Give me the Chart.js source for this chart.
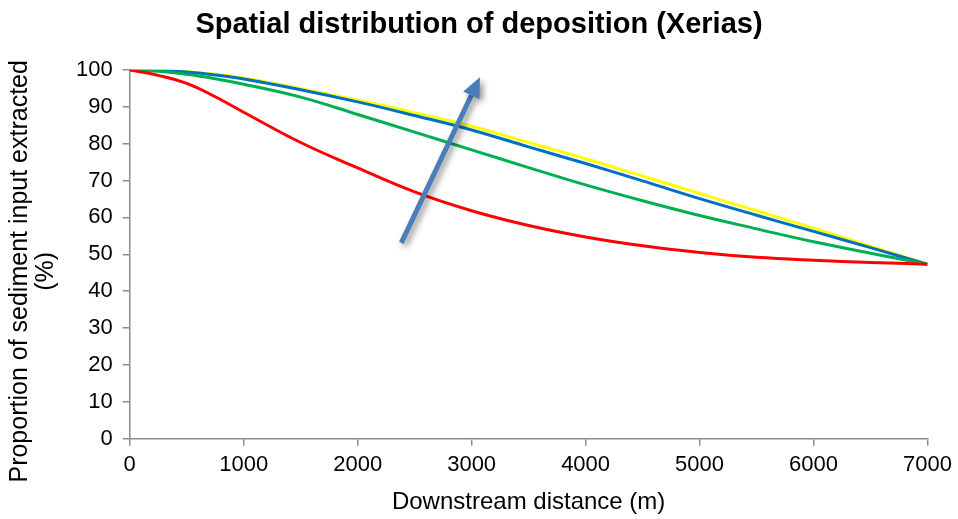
<!DOCTYPE html>
<html>
<head>
<meta charset="utf-8">
<script src="https://cdn.jsdelivr.net/npm/chart.js@4"></script>
<style>
  html, body { margin: 0; padding: 0; background: #fff; }
  #wrap { width: 958px; height: 519px; }
</style>
</head>
<body>
<div id="wrap"><canvas id="grafico" width="958" height="519"></canvas></div>
<script>
// downstream distance (m)
const distancias = [0, 250, 500, 750, 1000, 1500, 2000, 2500, 3000, 3500, 4000, 4500, 5000, 5500, 6000, 6500, 7000];

// proportion of sediment input extracted (%)
const serieVermelha = [100, 98.5, 96.3, 92.7, 88.5, 80.3, 73.4, 66.9, 61.8, 57.8, 54.7, 52.3, 50.5, 49.2, 48.4, 47.8, 47.3];
const serieVerde    = [100, 99.6, 98.8, 97.6, 96.1, 92.6, 87.9, 83.1, 78.3, 73.5, 68.8, 64.5, 60.5, 56.9, 53.4, 50.3, 47.3];
const serieAzul     = [100, 99.9, 99.4, 98.6, 97.5, 94.6, 91.3, 87.6, 83.7, 79.1, 74.6, 69.9, 65.1, 60.6, 56.2, 51.8, 47.3];
const serieAmarela  = [100, 99.9, 99.5, 98.8, 97.8, 94.9, 91.8, 88.4, 84.7, 80.3, 75.9, 71.2, 66.5, 61.8, 57.1, 52.2, 47.3];

const ticksY = [0, 10, 20, 30, 40, 50, 60, 70, 80, 90, 100];
const ticksX = [0, 1000, 2000, 3000, 4000, 5000, 6000, 7000];

const tituloY = ['Proportion of sediment input extracted', '(%)'];

// arrow showing the trend, in data units: [x (m), y (%)]
const setaInicio = [2383, 53.1];
const setaFim = [3073, 98.0];

const fonte = '"Liberation Sans", Arial, sans-serif';
const corEixo = '#8c8c8c';

function pontos(serie) {
  return distancias.map((d, i) => ({ x: d, y: serie[i] }));
}

function linha(serie, cor) {
  return {
    data: pontos(serie),
    borderColor: cor,
    backgroundColor: cor,
    borderWidth: 3,
    pointRadius: 0,
    tension: 0.4,
    fill: false,
  };
}

const pluginSeta = {
  id: 'seta',
  afterDatasetsDraw(chart) {
    const { ctx, scales } = chart;
    const x0 = scales.x.getPixelForValue(setaInicio[0]);
    const y0 = scales.y.getPixelForValue(setaInicio[1]);
    const x1 = scales.x.getPixelForValue(setaFim[0]);
    const y1 = scales.y.getPixelForValue(setaFim[1]);
    const ang = Math.atan2(y1 - y0, x1 - x0);
    const cab = 20;
    const larg = 9;
    const bx = x1 - cab * Math.cos(ang);
    const by = y1 - cab * Math.sin(ang);

    ctx.save();
    ctx.shadowColor = 'rgba(0,0,0,0.45)';
    ctx.shadowBlur = 6;
    ctx.shadowOffsetX = 3;
    ctx.shadowOffsetY = 3;
    ctx.fillStyle = '#4a7ebb';
    ctx.strokeStyle = '#4a7ebb';
    ctx.lineWidth = 5;
    ctx.beginPath();
    ctx.moveTo(x0, y0);
    ctx.lineTo(bx, by);
    ctx.stroke();
    ctx.beginPath();
    ctx.moveTo(x1, y1);
    ctx.lineTo(bx + larg * Math.sin(ang), by - larg * Math.cos(ang));
    ctx.lineTo(bx - larg * Math.sin(ang), by + larg * Math.cos(ang));
    ctx.closePath();
    ctx.fill();
    ctx.restore();
  }
};

// y axis title, centred a bit below the middle of the plot
const pluginTituloY = {
  id: 'tituloY',
  afterDraw(chart) {
    const { ctx, chartArea } = chart;
    const cy = (chartArea.top + chartArea.bottom) / 2 + 17;
    ctx.save();
    ctx.fillStyle = '#000';
    ctx.font = '25px ' + fonte;
    ctx.textAlign = 'center';
    ctx.textBaseline = 'middle';
    tituloY.forEach((txt, i) => {
      ctx.save();
      ctx.translate(20 + i * 26, cy);
      ctx.rotate(-Math.PI / 2);
      ctx.fillText(txt, 0, 0);
      ctx.restore();
    });
    ctx.restore();
  }
};

const ctx = document.getElementById('grafico').getContext('2d');

const grafico = new Chart(ctx, {
  type: 'line',
  data: {
    datasets: [
      linha(serieVermelha, '#ff0000'),
      linha(serieVerde, '#00b050'),
      linha(serieAzul, '#0070c0'),
      linha(serieAmarela, '#ffff00'),
    ],
  },
  options: {
    responsive: false,
    animation: false,
    layout: { padding: { left: 6, right: 6, top: 0, bottom: 2 } },
    scales: {
      x: {
        type: 'linear',
        min: 0,
        max: 7000,
        afterBuildTicks(axis) {
          axis.ticks = ticksX.map(v => ({ value: v }));
        },
        ticks: {
          color: '#000',
          font: { family: fonte, size: 22 },
          padding: 6,
          maxRotation: 0,
          callback: v => String(v),
        },
        grid: { drawOnChartArea: false, drawTicks: true, tickLength: 7, color: corEixo, lineWidth: 1.5 },
        border: { color: corEixo, width: 1.5 },
        title: {
          display: true,
          text: 'Downstream distance (m)',
          color: '#000',
          font: { family: fonte, size: 24 },
          padding: { top: 4, bottom: 0 },
        },
      },
      y: {
        min: 0,
        max: 100,
        afterBuildTicks(axis) {
          axis.ticks = ticksY.map(v => ({ value: v }));
        },
        // room for the two-line title drawn by pluginTituloY
        afterFit(axis) {
          axis.width += 60;
        },
        ticks: {
          color: '#000',
          font: { family: fonte, size: 22 },
          padding: 10,
          callback: v => String(v),
        },
        grid: { drawOnChartArea: false, drawTicks: true, tickLength: 7, color: corEixo, lineWidth: 1.5 },
        border: { color: corEixo, width: 1.5 },
      },
    },
    plugins: {
      legend: { display: false },
      tooltip: { enabled: false },
      title: {
        display: true,
        text: 'Spatial distribution of deposition (Xerias)',
        color: '#000',
        font: { family: fonte, size: 29, weight: 'bold' },
        padding: { top: 8, bottom: 27 },
      },
    },
  },
  plugins: [pluginSeta, pluginTituloY],
});
</script>
</body>
</html>
